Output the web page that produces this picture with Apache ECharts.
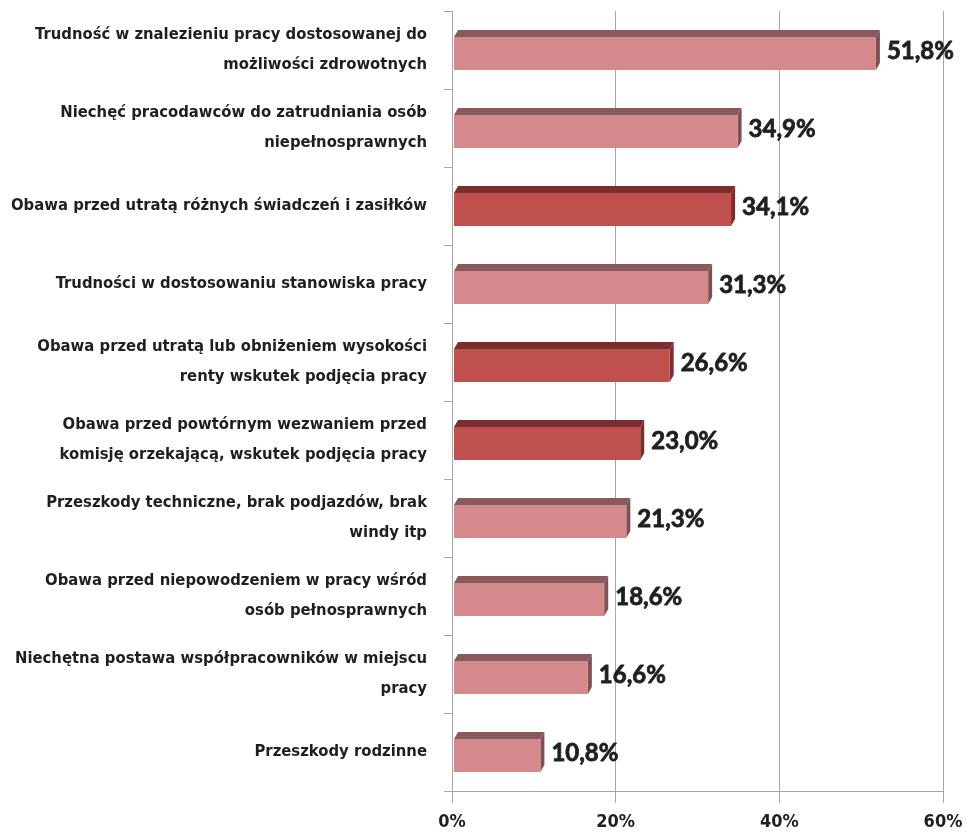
<!DOCTYPE html>
<html>
<head>
<meta charset="utf-8">
<script src="https://cdn.jsdelivr.net/npm/echarts@6/dist/echarts.min.js"></script>
<style>
  html, body { margin: 0; padding: 0; background: #fff; }
  #chart { width: 978px; height: 836px; }
</style>
</head>
<body>
<div id="chart"></div>
<script>
// Reasons given for not taking up work (share of respondents, %)
const categories = [
  "Trudność w znalezieniu pracy dostosowanej do\nmożliwości zdrowotnych",
  "Niechęć pracodawców do zatrudniania osób\nniepełnosprawnych",
  "Obawa przed utratą różnych świadczeń i zasiłków",
  "Trudności w dostosowaniu stanowiska pracy",
  "Obawa przed utratą lub obniżeniem wysokości\nrenty wskutek podjęcia pracy",
  "Obawa przed powtórnym wezwaniem przed\nkomisję orzekającą, wskutek podjęcia pracy",
  "Przeszkody techniczne, brak podjazdów, brak\nwindy itp",
  "Obawa przed niepowodzeniem w pracy wśród\nosób pełnosprawnych",
  "Niechętna postawa współpracowników w miejscu\npracy",
  "Przeszkody rodzinne"
];
const values = [51.8, 34.9, 34.1, 31.3, 26.6, 23.0, 21.3, 18.6, 16.6, 10.8];
// reasons related to fear of losing benefits are emphasised
const emphasised = [false, false, true, false, true, true, false, false, false, false];
const xTicks = [0, 20, 40, 60];

const palette = {
  normal: { front: '#D48A8C', top: '#8A5A5B', side: '#7E5051' },
  strong: { front: '#C0504D', top: '#7B2C2B', side: '#7A2E2D' }
};

const barData = values.map((v, i) => [v, i, emphasised[i] ? 1 : 0]);

function fmt(v) {
  return v.toFixed(1).replace('.', ',') + '%';
}

// Oblique 3D bar: front face, top face and right side face
function renderBar(params, api) {
  const v = api.value(0);
  const idx = api.value(1);
  const col = api.value(2) ? palette.strong : palette.normal;
  const p0 = api.coord([0, idx]);
  const p1 = api.coord([v, idx]);
  const h = 33, dx = 4, dy = 7;
  const x0 = p0[0] + 2;
  const x1 = p1[0];
  const top = p0[1] + dy / 2 - h / 2;
  const bottom = top + h;
  return {
    type: 'group',
    children: [
      {
        type: 'polygon',
        shape: { points: [[x0, top], [x1, top], [x1 + dx, top - dy], [x0 + dx, top - dy]] },
        style: { fill: col.top }
      },
      {
        type: 'polygon',
        shape: { points: [[x1, top], [x1 + dx, top - dy], [x1 + dx, bottom - dy], [x1, bottom]] },
        style: { fill: col.side }
      },
      {
        type: 'rect',
        shape: { x: x0, y: top, width: x1 - x0, height: h },
        style: { fill: col.front }
      },
      {
        type: 'text',
        x: x1 + dx + 7,
        y: p0[1] + 1,
        style: {
          text: fmt(v),
          fill: '#1F1F1F',
          stroke: '#1F1F1F',
          lineWidth: 0.8,
          fontFamily: 'Lato, "Open Sans", sans-serif',
          fontWeight: 'bold',
          fontSize: 24,
          verticalAlign: 'middle',
          align: 'left'
        }
      }
    ]
  };
}

const labelFont = '"DejaVu Sans Condensed", "Liberation Sans Narrow", sans-serif';

const chart = echarts.init(document.getElementById('chart'), null, { renderer: 'canvas' });
chart.setOption({
  animation: false,
  backgroundColor: '#ffffff',
  grid: { left: 452, right: 35, top: 11, bottom: 45, containLabel: false, outerBoundsMode: 'none' },
  xAxis: {
    type: 'value',
    min: xTicks[0],
    max: xTicks[xTicks.length - 1],
    interval: 20,
    axisLine: { show: true, lineStyle: { color: '#A6A6A6', width: 1 } },
    axisTick: { show: true, length: 12, inside: false, lineStyle: { color: '#A6A6A6' } },
    splitLine: { show: true, lineStyle: { color: '#A6A6A6', width: 1 } },
    axisLabel: {
      margin: 22,
      formatter: v => v + '%',
      color: '#1F1F1F',
      fontFamily: labelFont,
      fontWeight: 'bold',
      fontSize: 18
    }
  },
  yAxis: {
    type: 'category',
    data: categories,
    inverse: true,
    axisLine: { show: true, lineStyle: { color: '#A6A6A6', width: 1 } },
    axisTick: { show: true, length: 8, lineStyle: { color: '#A6A6A6' } },
    axisLabel: {
      margin: 25,
      align: 'right',
      color: '#1F1F1F',
      fontFamily: labelFont,
      fontWeight: 'bold',
      fontSize: 16.5,
      lineHeight: 30
    }
  },
  series: [{
    type: 'custom',
    renderItem: renderBar,
    encode: { x: 0, y: 1 },
    data: barData,
    clip: false
  }]
});
</script>
</body>
</html>
